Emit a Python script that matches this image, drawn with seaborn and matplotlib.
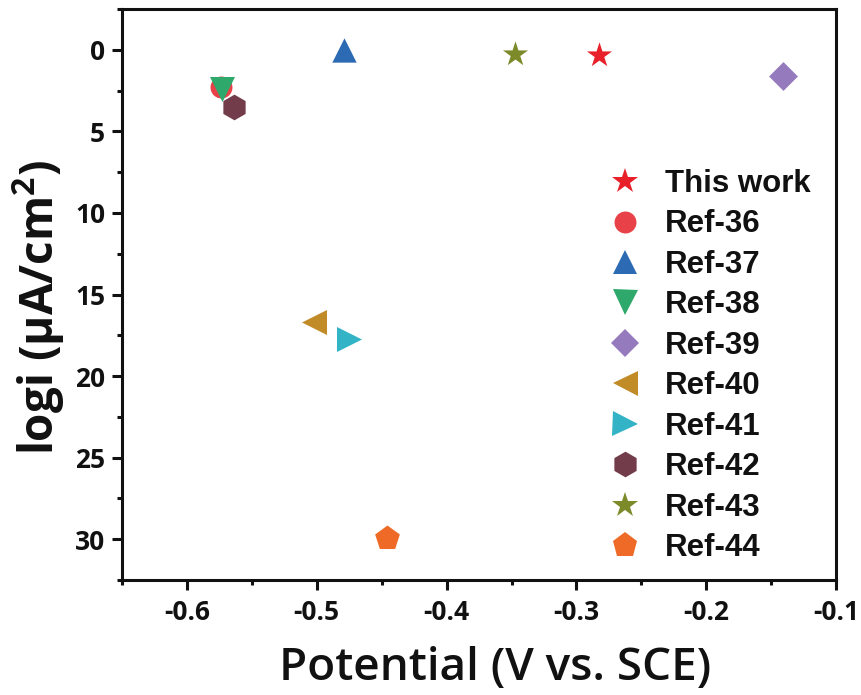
import numpy as np
import pandas as pd
import matplotlib
matplotlib.use("Agg")
import matplotlib.pyplot as plt
import seaborn as sns
from matplotlib.ticker import MultipleLocator

labels = ["This work", "Ref-36", "Ref-37", "Ref-38", "Ref-39", "Ref-40",
          "Ref-41", "Ref-42", "Ref-43", "Ref-44"]
potential = [-0.283, -0.574, -0.479, -0.573, -0.141, -0.502, -0.475, -0.564, -0.347, -0.446]
logi = [0.3, 2.3, 0.0, 2.4, 1.6, 16.7, 17.7, 3.5, 0.25, 29.9]
colors = ["#E8202A", "#E84148", "#2C6BB3", "#2EA86B", "#957BBE", "#C18B27",
          "#33B4C6", "#733C4A", "#7D8A2A", "#EE6A26"]
markers = ["*", "o", "^", "v", "D", "<", ">", "h", "*", "p"]
msizes = [19, 15.8, 17.5, 18, 14.7, 18, 18, 18.5, 19, 18.7]

df = pd.DataFrame({"label": labels, "Potential": potential, "logi": logi})

sns.set_style("ticks")
plt.rcParams["font.family"] = ["Liberation Sans", "DejaVu Sans"]
plt.rcParams["mathtext.fontset"] = "custom"
plt.rcParams["mathtext.bf"] = "Open Sans:bold"
plt.rcParams["mathtext.rm"] = "Open Sans"

fig = plt.figure(figsize=(8.62, 6.95), dpi=100)
ax = fig.add_axes([0.1415, 0.1655, 0.8285, 0.8215])

for lab, c, m, ms in zip(labels, colors, markers, msizes):
    sub = df[df["label"] == lab]
    sns.scatterplot(data=sub, x="Potential", y="logi", color=c, marker=m, s=ms ** 2,
                    linewidth=0, ax=ax, legend=False)

ax.set_xlim(-0.65, -0.1)
ax.set_ylim(32.5, -2.5)
ax.xaxis.set_major_locator(MultipleLocator(0.1))
ax.xaxis.set_minor_locator(MultipleLocator(0.05))
ax.yaxis.set_major_locator(MultipleLocator(5))
ax.yaxis.set_minor_locator(MultipleLocator(2.5))
ax.xaxis.set_major_formatter(matplotlib.ticker.FuncFormatter(lambda v, p: f"{v:.1f}"))

for sp in ax.spines.values():
    sp.set_linewidth(2.2)
    sp.set_color("#111111")
ax.tick_params(which="major", direction="out", length=7, width=2.2, color="#111111",
               top=False, right=False)
ax.tick_params(which="minor", direction="out", length=3.5, width=2.2, color="#111111",
               top=False, right=False)
ax.tick_params(axis="x", which="major", pad=7)
ax.tick_params(axis="y", which="major", pad=5)

for t in ax.get_xticklabels() + ax.get_yticklabels():
    t.set_fontfamily(["Open Sans", "DejaVu Sans"])
    t.set_fontweight("bold")
    t.set_fontsize(19)
    t.set_color("#111111")

ax.set_xlabel("Potential (V vs. SCE)", fontsize=33, fontfamily=["Open Sans", "DejaVu Sans"],
              fontweight="semibold", labelpad=14, color="#111111")
ax.xaxis.label.set_x(0.522)
ax.set_ylabel("logi (μA/cm$^\\mathbf{2}$)", fontsize=33, fontweight="bold",
              fontfamily=["Open Sans", "DejaVu Sans"], labelpad=6, color="#111111")
ax.yaxis.label.set_y(0.478)

handles = [plt.Line2D([], [], linestyle="none", marker=m, color=c,
                      markersize=ms, markeredgewidth=0)
           for c, m, ms in zip(colors, markers, msizes)]
leg = ax.legend(handles, labels, loc="upper left",
                bbox_to_anchor=(609 / 862, 1 - 169 / 695), bbox_transform=fig.transFigure,
                frameon=False, prop={"family": ["Liberation Sans", "DejaVu Sans"],
                                     "weight": "bold", "size": 22.5},
                handlelength=1.0, handletextpad=0.8, labelspacing=0.335,
                borderpad=0, borderaxespad=0)
for t in leg.get_texts():
    t.set_color("#111111")

fig.savefig("out.png", dpi=100)
